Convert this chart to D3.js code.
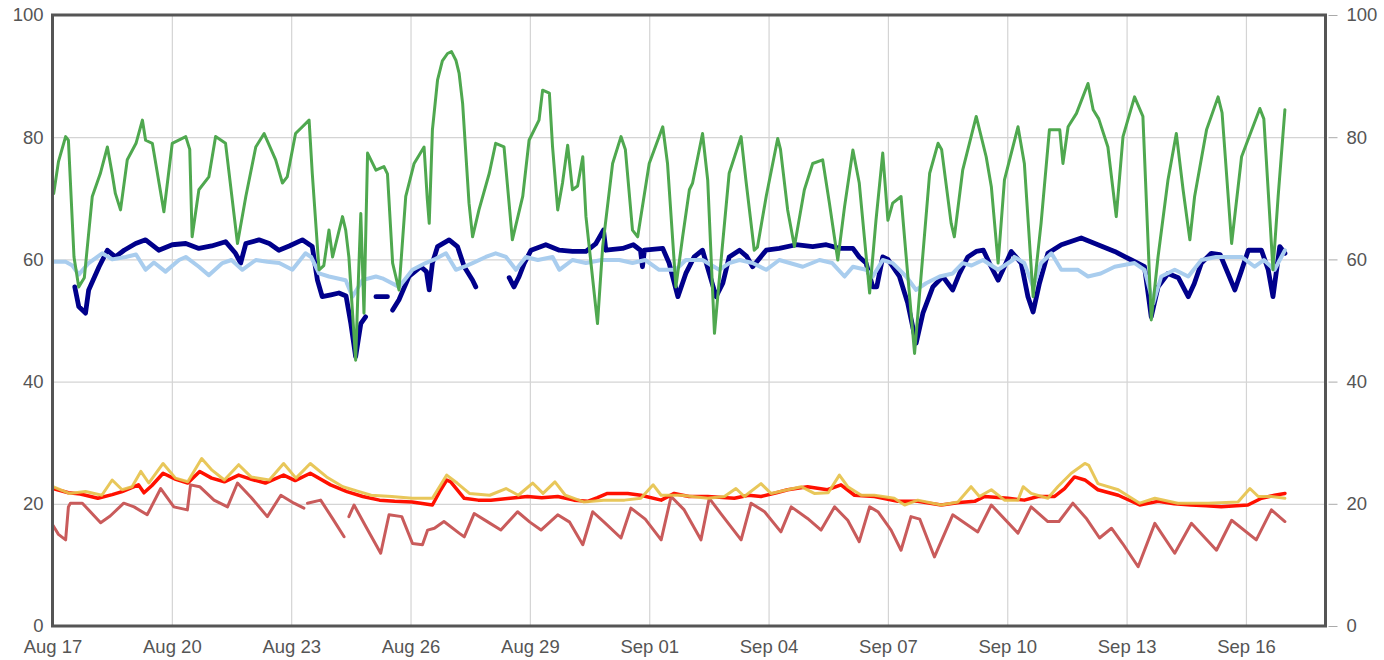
<!DOCTYPE html>
<html>
<head>
<meta charset="utf-8">
<script src="https://cdn.jsdelivr.net/npm/d3@7"></script>
<style>
  html, body { margin: 0; padding: 0; background: #fff; }
  svg { display: block; font-family: "Liberation Sans", Arial, sans-serif; }
</style>
</head>
<body>
<svg id="chart" width="1384" height="660"></svg>
<script>
// ---------- DATA (day offset from Aug 17, value) ----------
const startDate = "2015-08-17";
const endDate = "2015-09-18";
const xTickDates = ["2015-08-17","2015-08-20","2015-08-23","2015-08-26","2015-08-29","2015-09-01","2015-09-04","2015-09-07","2015-09-10","2015-09-13","2015-09-16"];
const yTicks = [0, 20, 40, 60, 80, 100];

const greenSeries = [[0.03,70.8],[0.15,76],[0.33,80.1],[0.40,79.5],[0.54,60.4],[0.66,55.5],[0.80,57],[1.0,70.3],[1.20,74],[1.38,78.4],[1.50,74],[1.58,70.8],[1.71,68.1],[1.88,76.3],[2.10,79],[2.26,82.8],[2.34,79.5],[2.51,79.0],[2.80,67.8],[3.01,79.0],[3.35,80.1],[3.45,78],[3.51,63.7],[3.68,71.4],[3.93,73.5],[4.10,80.1],[4.35,79.0],[4.65,62.6],[4.86,70.3],[5.11,78.4],[5.32,80.6],[5.61,76.3],[5.78,72.5],[5.90,73.5],[6.11,80.6],[6.45,82.8],[6.53,74.1],[6.70,58.3],[6.82,59],[6.95,64.8],[7.04,60.4],[7.29,67.0],[7.37,64.8],[7.45,60.4],[7.62,43.5],[7.68,55],[7.75,67.5],[7.83,51.2],[7.92,77.4],[8.13,74.6],[8.33,75.2],[8.42,74],[8.55,59.4],[8.71,55.0],[8.88,70.3],[9.09,75.7],[9.34,78.4],[9.42,70],[9.47,65.9],[9.55,81.2],[9.68,89.4],[9.80,92.5],[9.93,93.7],[10.03,94.0],[10.14,92.6],[10.22,90.5],[10.31,85.5],[10.47,69.2],[10.56,63.7],[10.72,68.1],[10.98,74.1],[11.14,79.0],[11.35,78.4],[11.56,63.2],[11.82,70.3],[11.98,79.5],[12.23,82.8],[12.32,87.7],[12.49,87.2],[12.57,78.4],[12.70,68.1],[12.82,72.5],[12.95,78.7],[13.07,71.4],[13.20,72],[13.33,76.8],[13.41,67.0],[13.70,49.5],[13.83,62.1],[14.08,75.7],[14.29,80.1],[14.40,78],[14.58,64.8],[14.71,63.7],[15.00,75.7],[15.34,81.7],[15.46,75.7],[15.67,55.5],[15.84,63.7],[16.01,71.4],[16.09,72.5],[16.34,80.6],[16.47,73.0],[16.64,47.9],[16.76,56.6],[17.01,74.1],[17.31,80.1],[17.43,73.0],[17.64,61.5],[17.72,62],[17.94,70.3],[18.23,79.8],[18.30,78],[18.48,68.1],[18.65,62.1],[18.90,71.4],[19.11,75.7],[19.36,76.3],[19.53,69.2],[19.74,59.9],[19.91,68.6],[20.12,77.9],[20.28,72.5],[20.54,54.5],[20.70,66.4],[20.87,77.4],[21.00,66.4],[21.12,69.2],[21.33,70.3],[21.46,60.4],[21.67,44.6],[21.79,53.9],[22.05,74.1],[22.26,79.0],[22.35,78],[22.59,65.9],[22.67,63.7],[22.88,74.6],[23.22,83.4],[23.47,76.8],[23.60,71.9],[23.77,59.4],[23.93,73.0],[24.27,81.7],[24.43,75.7],[24.65,53.9],[24.85,65.9],[25.06,81.2],[25.32,81.2],[25.40,75.7],[25.53,81.7],[25.74,83.9],[26.03,88.8],[26.16,84.5],[26.30,83],[26.53,78.4],[26.74,67.0],[26.91,80.1],[27.20,86.6],[27.41,83.4],[27.62,50.1],[27.79,60.4],[28.04,73.0],[28.25,80.6],[28.42,71.4],[28.59,63.2],[28.71,70.3],[29.01,81.2],[29.30,86.6],[29.40,84],[29.64,62.6],[29.89,76.8],[30.35,84.7],[30.45,83],[30.68,58.3],[30.81,70.3],[30.98,84.5]];

const navySeries = [[0.56,55.5],[0.66,52.3],[0.83,51.2],[0.91,55.0],[1.17,58.8],[1.38,61.5],[1.58,60.4],[1.80,61.5],[2.09,62.6],[2.34,63.2],[2.67,61.5],[3.01,62.4],[3.35,62.6],[3.68,61.8],[4.0,62.2],[4.35,62.9],[4.60,61.0],[4.73,59.4],[4.86,62.6],[5.19,63.2],[5.45,62.6],[5.69,61.5],[5.95,62.2],[6.28,63.2],[6.53,62.1],[6.66,56.6],[6.78,53.9],[7.0,54.2],[7.20,54.5],[7.38,54],[7.50,49.5],[7.62,44.1],[7.75,49.5],[7.87,50.6],null,[8.13,53.9],[8.42,53.9],null,[8.55,51.7],[8.71,53.4],[8.96,57.2],[9.26,58.8],[9.40,58],[9.47,55.0],[9.55,59.4],[9.68,62.1],[9.97,63.2],[10.18,62.1],[10.35,58.8],[10.56,56.6],[10.64,55.5],null,[11.48,57],[11.60,55.5],[11.73,57.2],[11.86,59.4],[12.03,61.5],[12.40,62.4],[12.74,61.5],[13.07,61.3],[13.41,61.3],[13.66,62.6],[13.85,64.8],[13.91,61.5],[14.33,61.8],[14.60,62.4],[14.78,61.5],[14.83,58.8],[14.88,61.5],[15.34,61.8],[15.50,59.4],[15.72,53.9],[15.92,57.7],[16.13,60.4],[16.34,61.5],[16.51,57.7],[16.68,53.9],[16.85,56.1],[17.01,60.4],[17.27,61.5],[17.45,60.5],[17.60,58.8],[17.94,61.5],[18.27,61.8],[18.69,62.4],[19.11,62.1],[19.45,62.4],[19.78,61.8],[20.12,61.8],[20.28,60.4],[20.45,59.4],[20.62,55.5],[20.72,55.5],[20.87,60.4],[21.0,60],[21.29,57.2],[21.50,52.8],[21.71,46.3],[21.88,51.2],[22.13,55.5],[22.38,57.2],[22.63,55.0],[22.80,57.7],[23.01,60.4],[23.22,61.3],[23.40,61.5],[23.55,59.4],[23.77,56.6],[23.97,59.4],[24.10,61.3],[24.35,59.4],[24.52,53.9],[24.65,51.4],[24.81,56.1],[25.02,61.0],[25.36,62.4],[25.86,63.5],[26.28,62.4],[26.70,61.3],[27.12,59.9],[27.45,58.8],[27.62,50.6],[27.79,55.5],[28.04,57.7],[28.30,57],[28.55,53.9],[28.70,56],[28.88,59.4],[29.13,61.0],[29.35,60.8],[29.55,57.7],[29.72,55.0],[29.88,58],[30.06,61.5],[30.39,61.5],[30.56,58.3],[30.68,53.9],[30.85,62.1],[30.98,61.0]];

const lightBlueSeries = [[0.03,59.6],[0.33,59.6],[0.50,59],[0.66,57.5],[0.91,59.4],[1.25,61.0],[1.50,60],[1.84,60.4],[2.10,60.8],[2.34,58.3],[2.55,59.5],[2.84,58.0],[3.18,59.9],[3.35,60.4],[3.68,58.8],[3.93,57.4],[4.27,59.4],[4.50,59.9],[4.77,58.3],[5.11,59.9],[5.40,59.6],[5.70,59.4],[6.03,58.3],[6.36,61.0],[6.50,60.4],[6.70,57.7],[6.95,57.2],[7.37,56.6],[7.54,53.9],[7.79,56.6],[8.13,57.2],[8.29,56.9],[8.71,55.5],[9.05,58.3],[9.38,59.4],[9.60,60],[9.89,61.0],[10.14,58.3],[10.35,58.8],[10.56,59.4],[10.89,60.4],[11.14,61.0],[11.40,60.4],[11.65,58.3],[11.90,60.4],[12.20,59.9],[12.57,60.4],[12.74,58.3],[13.07,59.9],[13.41,59.4],[13.80,59.9],[14.25,59.9],[14.58,59.4],[14.90,59.9],[15.25,58.3],[15.67,58.3],[15.92,59.9],[16.34,59.9],[16.76,58.3],[17.01,59.4],[17.27,59.9],[17.60,59.4],[17.94,58.3],[18.27,59.9],[18.86,58.8],[19.28,59.9],[19.60,59.4],[19.91,57.2],[20.12,58.8],[20.45,58.3],[20.62,57.2],[20.87,59.9],[21.12,59.4],[21.46,57.2],[21.71,55.0],[21.96,56.1],[22.30,57.2],[22.63,57.7],[22.88,59.4],[23.10,59],[23.39,59.9],[23.77,58.3],[24.14,59.9],[24.18,60.4],[24.43,59.4],[24.65,55.5],[24.85,59.4],[25.11,61.0],[25.36,58.3],[25.78,58.3],[26.03,57.2],[26.35,57.7],[26.70,58.8],[27.20,59.4],[27.45,58.3],[27.67,52.8],[27.87,57.2],[28.21,58.3],[28.55,57.2],[28.88,59.9],[29.25,60.4],[29.60,60.4],[29.89,60.4],[30.22,58.8],[30.45,59.9],[30.72,58.3],[30.98,61.5]];

const redSeries = [[0.01,22.5],[0.40,21.8],[0.70,21.6],[1.14,20.9],[1.50,21.5],[1.75,22],[2.16,23.1],[2.30,21.8],[2.50,23],[2.78,25.0],[3.10,24],[3.40,23.4],[3.70,25.3],[4.00,24.2],[4.32,23.6],[4.68,24.7],[5.00,24],[5.35,23.4],[5.81,24.7],[6.10,23.8],[6.48,25.0],[6.99,23.1],[7.40,22.0],[7.80,21.2],[8.22,20.6],[8.60,20.4],[9.04,20.3],[9.55,19.8],[9.76,22.3],[9.91,23.9],[10.01,23.6],[10.35,20.9],[10.70,20.6],[11.02,20.6],[11.50,20.9],[11.94,21.2],[12.30,21],[12.70,21.2],[13.11,20.6],[13.45,20.4],[13.70,21],[13.95,21.7],[14.46,21.7],[14.79,21.4],[15.30,20.6],[15.63,21.7],[16.00,21.2],[16.47,21.2],[17.14,20.9],[17.50,21.4],[17.81,21.2],[18.20,21.8],[18.48,22.3],[18.98,22.8],[19.48,22.3],[19.82,23.1],[20.16,21.4],[20.66,21.2],[21.25,20.4],[21.75,20.4],[22.34,19.8],[22.80,20.2],[23.18,20.4],[23.43,21.2],[24.02,20.9],[24.43,20.6],[24.77,21.2],[25.19,21.2],[25.44,22.5],[25.69,24.4],[25.95,23.9],[26.28,22.3],[26.79,21.4],[27.33,19.8],[27.79,20.4],[28.20,20.0],[28.62,19.8],[29.00,19.7],[29.38,19.5],[30.05,19.8],[30.39,20.9],[30.72,21.4],[30.98,21.7]];

const yellowSeries = [[0.01,22.8],[0.42,21.7],[0.83,22.0],[1.24,21.4],[1.50,23.9],[1.75,22.3],[2.00,22.8],[2.22,25.3],[2.42,23.4],[2.78,26.6],[3.09,24.2],[3.40,23.6],[3.75,27.4],[4.01,25.5],[4.32,23.9],[4.68,26.4],[4.99,24.4],[5.45,23.9],[5.81,26.6],[6.12,24.2],[6.48,26.6],[6.89,24.4],[7.30,22.8],[7.71,22.0],[8.01,21.4],[8.53,21.2],[9.04,20.9],[9.55,20.9],[9.91,24.7],[10.17,23.4],[10.48,21.7],[10.99,21.4],[11.40,22.5],[11.71,21.4],[12.07,23.4],[12.33,21.7],[12.63,23.6],[12.89,21.4],[13.35,20.3],[13.86,20.6],[14.38,20.6],[14.79,20.9],[15.10,23.1],[15.30,21.4],[15.80,21.4],[16.47,20.9],[16.89,21.2],[17.18,22.5],[17.39,21.2],[17.81,23.3],[18.06,21.7],[18.48,22.3],[18.82,22.8],[19.15,21.7],[19.50,21.8],[19.78,24.7],[19.99,22.8],[20.33,21.4],[20.66,21.4],[21.16,20.9],[21.42,19.8],[21.75,20.6],[22.34,19.8],[22.76,20.3],[23.09,22.8],[23.30,21.2],[23.60,22.3],[23.93,20.6],[24.27,20.6],[24.40,22.8],[24.60,21.7],[25.02,20.9],[25.27,22.8],[25.61,25.0],[25.95,26.6],[26.05,26.3],[26.28,23.3],[26.79,22.3],[27.33,20.1],[27.71,20.9],[28.29,20.1],[29.05,20.1],[29.80,20.3],[30.10,22.5],[30.31,21.2],[30.64,21.2],[30.98,20.9]];

const brownSeries = [[0.01,16.5],[0.15,15],[0.33,14.1],[0.40,19.5],[0.45,20.1],[0.75,20.1],[1.21,16.9],[1.45,18],[1.79,20.1],[2.05,19.5],[2.38,18.2],[2.72,22.5],[3.05,19.5],[3.39,19.0],[3.47,23.1],[3.70,22.8],[4.06,20.6],[4.40,19.5],[4.65,23.4],[5.00,21],[5.40,17.9],[5.74,21.4],[6.07,20.1],[6.32,19.3],null,[6.41,20.1],[6.74,20.6],[7.05,17.5],[7.33,14.6],null,[7.45,17.9],[7.58,19.8],[7.90,16],[8.25,11.9],[8.46,18.2],[8.78,17.9],[9.05,13.5],[9.30,13.3],[9.43,15.7],[9.60,16],[9.84,17.1],[10.22,15.2],[10.35,14.6],[10.60,18.4],[10.95,17],[11.27,15.7],[11.69,18.7],[12.00,17],[12.28,15.7],[12.70,18.2],[13.00,17],[13.33,13.3],[13.58,18.7],[13.90,16.8],[14.29,14.4],[14.54,19.3],[14.90,17.5],[15.30,14.1],[15.55,21.2],[15.88,19.0],[16.30,14.1],[16.51,20.9],[16.80,18.4],[17.31,14.1],[17.56,20.1],[17.90,18.7],[18.31,15.4],[18.57,19.5],[18.98,17.6],[19.32,15.7],[19.66,19.5],[19.99,17.3],[20.28,13.8],[20.54,19.5],[20.75,18.7],[21.08,15.7],[21.33,12.4],[21.58,17.9],[21.80,17.5],[22.17,11.3],[22.63,18.2],[23.26,15.4],[23.60,19.8],[24.27,15.2],[24.60,19.5],[25.02,17.1],[25.30,17.1],[25.65,20.1],[26.00,17.5],[26.32,14.4],[26.62,16.0],[26.90,13.5],[27.29,9.7],[27.71,16.8],[28.21,11.9],[28.63,16.8],[29.26,12.4],[29.64,17.3],[30.26,14.1],[30.64,19.0],[30.98,17.1]];

// ---------- CHART ----------
const W = 1384, H = 660;
const plot = { left: 52.5, right: 1325.5, top: 15, bottom: 626 };
const parse = d3.utcParse("%Y-%m-%d");
const t0 = parse(startDate), t1 = parse(endDate);

const x = d3.scaleUtc().domain([t0, t1]).range([plot.left, plot.right]);
const y = d3.scaleLinear().domain([0, 100]).range([plot.bottom, plot.top]);

const svg = d3.select("#chart");
svg.append("rect").attr("width", W).attr("height", H).attr("fill", "#fff");

const defs = svg.append("defs");
defs.append("clipPath").attr("id", "clip").append("rect")
  .attr("x", plot.left).attr("y", plot.top)
  .attr("width", plot.right - plot.left).attr("height", plot.bottom - plot.top);

const tickDates = xTickDates.map(parse);

// gridlines
const gridX = svg.append("g").attr("transform", `translate(0,${plot.bottom})`)
  .call(d3.axisBottom(x).tickValues(tickDates).tickSize(-(plot.bottom - plot.top)).tickFormat(""));
gridX.select(".domain").remove();
gridX.selectAll("line").attr("stroke", "#d4d4d4").attr("stroke-width", 1.2);

const gridY = svg.append("g").attr("transform", `translate(${plot.left},0)`)
  .call(d3.axisLeft(y).tickValues(yTicks.filter(v => v > 0 && v < 100)).tickSize(-(plot.right - plot.left)).tickFormat(""));
gridY.select(".domain").remove();
gridY.selectAll("line").attr("stroke", "#d4d4d4").attr("stroke-width", 1.2);

// series
const toPts = arr => arr.map(p => p ? { t: d3.utcMinute.offset(t0, Math.round(p[0] * 1440)), v: p[1] } : null);
const line = d3.line().defined(d => d !== null).x(d => x(d.t)).y(d => y(d.v)).curve(d3.curveLinear);

const series = [
  { data: navySeries, color: "#00008b", width: 4.8 },
  { data: lightBlueSeries, color: "#a9cdee", width: 4 },
  { data: greenSeries, color: "#4fa84f", width: 3 },
  { data: brownSeries, color: "#c95b5b", width: 3 },
  { data: redSeries, color: "#ff1000", width: 3.5 },
  { data: yellowSeries, color: "#e6c24c", width: 3, opacity: 0.92 }
];

const lines = svg.append("g").attr("clip-path", "url(#clip)");
series.forEach(s => {
  lines.append("path")
    .datum(toPts(s.data))
    .attr("fill", "none")
    .attr("stroke", s.color)
    .attr("stroke-width", s.width)
    .attr("stroke-opacity", s.opacity || 1)
    .attr("stroke-linejoin", "round")
    .attr("stroke-linecap", "round")
    .attr("d", line);
});

// frame
svg.append("rect")
  .attr("x", plot.left).attr("y", plot.top)
  .attr("width", plot.right - plot.left).attr("height", plot.bottom - plot.top)
  .attr("fill", "none").attr("stroke", "#555").attr("stroke-width", 3);

// axes
const fontSize = 18.5;
const fontFam = "Liberation Sans, Arial, sans-serif";
const axL = svg.append("g").attr("transform", `translate(${plot.left},0)`)
  .call(d3.axisLeft(y).tickValues(yTicks).tickSize(0).tickPadding(9));
axL.select(".domain").remove();
axL.selectAll("text").attr("font-size", fontSize).attr("fill", "#555").attr("font-family", fontFam);

const axR = svg.append("g").attr("transform", `translate(${plot.right + 3},0)`)
  .call(d3.axisRight(y).tickValues(yTicks).tickSize(9).tickPadding(9));
axR.select(".domain").remove();
axR.selectAll("line").attr("stroke", "#aaa");
axR.selectAll("text").attr("font-size", fontSize).attr("fill", "#555").attr("font-family", fontFam);

const axB = svg.append("g").attr("transform", `translate(0,${plot.bottom})`)
  .call(d3.axisBottom(x).tickValues(tickDates).tickFormat(d3.utcFormat("%b %d")).tickSize(0).tickPadding(14));
axB.select(".domain").remove();
axB.selectAll("text").attr("font-size", fontSize).attr("fill", "#555").attr("font-family", fontFam);
</script>
</body>
</html>
